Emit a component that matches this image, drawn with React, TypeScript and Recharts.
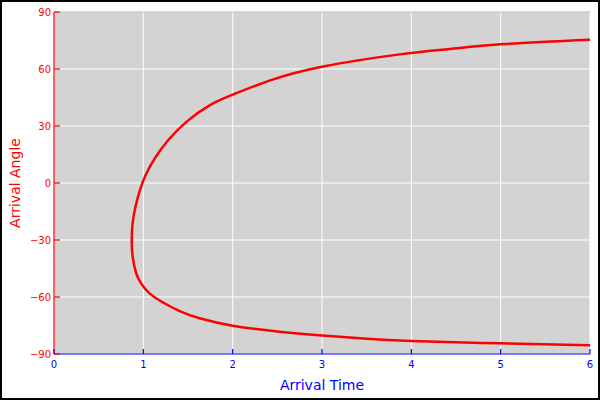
import React from 'react';
import { LineChart, Line, XAxis, YAxis, CartesianGrid, ReferenceLine } from 'recharts';

// Arrival time (x) and arrival angle (y), in path order along the curve
const arrivalTime = [
  6.0, 5.0, 4.0, 3.5, 3.0, 2.5, 2.0, 1.63, 1.42, 1.235, 1.07, 0.975, 0.92, 0.881, 0.87,
  0.88, 0.912, 0.962, 1.035, 1.14, 1.28, 1.485, 1.746, 2.0, 2.42, 3.0, 3.87, 4.43, 5.0, 6.0,
];
const arrivalAngle = [
  -85.4, -84.4, -83.2, -82.0, -80.2, -78.1, -75.1, -71.2, -67.7, -63.3, -58.1, -52.8, -47.5, -38.8, -30.0,
  -21.2, -12.5, -3.7, 5.1, 13.8, 22.6, 32.3, 41.0, 46.5, 54.0, 61.2, 67.7, 70.5, 73.0, 75.4,
];
const xTicks = [0, 1, 2, 3, 4, 5, 6];
const yTicks = [-90, -60, -30, 0, 30, 60, 90];

const data = arrivalTime.map((t, i) => ({ t, a: arrivalAngle[i] }));

const fmt = (v: number) => (v < 0 ? '\u2212' + Math.abs(v) : String(v));

const YTick = (props: any) => {
  const { x, y, payload } = props;
  return (
    <g>
      <line x1={x} x2={x + 6} y1={y} y2={y} stroke="#ff0000" strokeWidth={1.2} />
      <text x={x - 3} y={y} dy={3.6} textAnchor="end" fill="#ff0000" fontSize={10}>
        {fmt(payload.value)}
      </text>
    </g>
  );
};

const XTick = (props: any) => {
  const { x, y, payload } = props;
  return (
    <g>
      <line x1={x} x2={x} y1={y} y2={y - 5} stroke="#0000ff" strokeWidth={1.2} />
      <text x={x} y={y} dy={14} textAnchor="middle" fill="#0000ff" fontSize={10}>
        {fmt(payload.value)}
      </text>
    </g>
  );
};

export default function App() {
  return (
    <div
      style={{
        position: 'absolute',
        left: 0,
        top: 0,
        width: 600,
        height: 400,
        background: '#fff',
        fontFamily: '"DejaVu Sans", sans-serif',
      }}
    >
      <LineChart
        width={600}
        height={400}
        data={data}
        margin={{ top: 12, right: 10, bottom: 0, left: 0 }}
      >
        <CartesianGrid stroke="#ffffff" strokeWidth={1} fill="#d3d3d3" fillOpacity={1} />
        <ReferenceLine y={90} stroke="#b4b4b4" strokeWidth={1} />
        <XAxis
          type="number"
          dataKey="t"
          domain={[0, 6]}
          ticks={xTicks}
          allowDataOverflow
          height={46}
          tickSize={0}
          tickMargin={0}
          tickLine={false}
          tick={<XTick />}
          axisLine={{ stroke: '#0000ff', strokeWidth: 1.2 }}
          label={{ value: 'Arrival Time', position: 'insideBottom', offset: 10, fill: '#0000ff', fontSize: 14 }}
        />
        <YAxis
          type="number"
          dataKey="a"
          domain={[-90, 90]}
          ticks={yTicks}
          allowDataOverflow
          width={54}
          tickSize={0}
          tickMargin={0}
          tickLine={false}
          tick={<YTick />}
          axisLine={{ stroke: '#ff0000', strokeWidth: 1.2 }}
          label={{
            value: 'Arrival Angle',
            angle: -90,
            position: 'insideLeft',
            offset: 15,
            fill: '#ff0000',
            fontSize: 14,
            style: { textAnchor: 'middle' },
          }}
        />
        <Line
          type="natural"
          dataKey="a"
          stroke="#ff0000"
          strokeWidth={2.5}
          dot={false}
          isAnimationActive={false}
        />
      </LineChart>
      <div
        style={{
          position: 'absolute',
          left: 0,
          top: 0,
          width: 600,
          height: 400,
          border: '2px solid #000',
          boxSizing: 'border-box',
          pointerEvents: 'none',
        }}
      />
    </div>
  );
}
